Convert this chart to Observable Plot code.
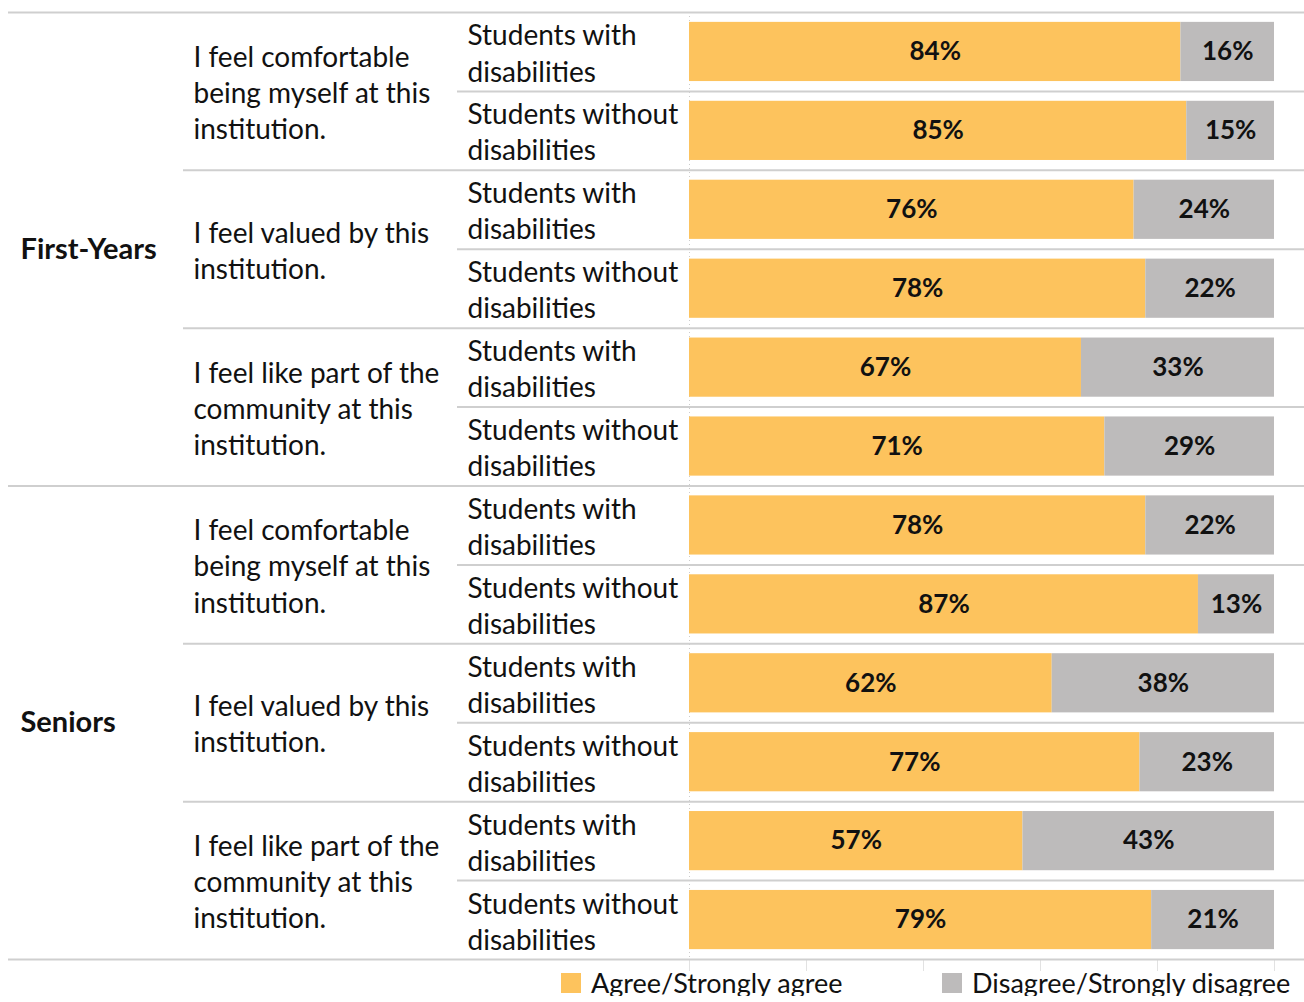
<!DOCTYPE html>
<html><head><meta charset="utf-8">
<script src="https://cdn.jsdelivr.net/npm/d3@7"></script>
<script src="https://cdn.jsdelivr.net/npm/@observablehq/plot@0.6"></script>
<style>
body{margin:0;background:#fff;font-family:Lato,sans-serif;}
#legend{position:relative;width:1304px;height:27px;font-size:27px;color:#111;line-height:27px;margin-top:-6px}
.item{position:absolute;top:0;display:flex;align-items:center;white-space:nowrap}
.sw{width:20px;height:20px;margin-right:10px}
</style></head><body><div id="chart"></div><div id="legend"></div>
<script>
const groups = ["First-Years", "Seniors"];
const questions = [
  "I feel comfortable\nbeing myself at this\ninstitution.",
  "I feel valued by this\ninstitution.",
  "I feel like part of the\ncommunity at this\ninstitution."
];
const populations = ["Students with\ndisabilities", "Students without\ndisabilities"];
const agree    = [84, 85, 76, 78, 67, 71, 78, 87, 62, 77, 57, 79];
const disagree = [16, 15, 24, 22, 33, 29, 22, 13, 38, 23, 43, 21];
const categories = ["Agree/Strongly agree", "Disagree/Strongly disagree"];
const colors = ["#FDC35D", "#BDBBBB"];
const xTicks = [0, 20, 40, 60, 80, 100];

const W = 1304, H = 975, MT = 12, MB = 16;
const step = (H - MT - MB) / 12;
const rows = [];
groups.forEach((g, gi) => questions.forEach((q, qi) => populations.forEach((p, pi) => {
  const i = rows.length;
  rows.push({id: `${gi}-${qi}-${pi}`, i, g, q, p, gi, qi, pi});
})));
const long = rows.flatMap((r) => [
  {id: r.id, cat: categories[0], value: agree[r.i]},
  {id: r.id, cat: categories[1], value: disagree[r.i]}
]);
const lineColor = "#cfcfcf";
const txt = "#111";

const chart = Plot.plot({
  width: W, height: H,
  marginLeft: 0, marginRight: 0, marginTop: MT, marginBottom: MB,
  style: {fontFamily: "Lato, sans-serif", background: "#fff"},
  x: {domain: [0, 100], range: [689, 1274], label: null},
  y: {domain: rows.map((r) => r.id), range: [MT, H - MB], paddingInner: 0.25, paddingOuter: 0.125, round: false, axis: null},
  color: {domain: categories, range: colors},
  marks: [
    Plot.ruleX([0], {stroke: "#cccccc", strokeDasharray: "1,3"}),
    Plot.axisX({ticks: xTicks, tickFormat: () => "", tickSize: 12, stroke: "#e2e2e2", label: null}),
    Plot.barX(long, Plot.stackX({x: "value", y: "id", fill: "cat"})),
    Plot.text(long, Plot.stackX({x: "value", y: "id", text: (d) => d.value + "%", fontWeight: "bold", fontSize: 26, fill: txt})),
    // separators
    Plot.ruleY(rows.filter((r) => r.i % 6 === 0), {y: "id", dy: -step / 2, insetLeft: 8, stroke: lineColor, strokeWidth: 2}),
    Plot.ruleY([rows[rows.length - 1]], {y: "id", dy: step / 2, insetLeft: 8, stroke: lineColor, strokeWidth: 2}),
    Plot.ruleY(rows.filter((r) => r.pi === 0 && r.qi > 0), {y: "id", dy: -step / 2, insetLeft: 183, stroke: lineColor, strokeWidth: 2}),
    Plot.ruleY(rows.filter((r) => r.pi === 1), {y: "id", dy: -step / 2, insetLeft: 457, stroke: lineColor, strokeWidth: 2}),
    // labels
    Plot.text(rows, {y: "id", text: "p", frameAnchor: "left", textAnchor: "start", dx: 467, fontSize: 28, lineHeight: 1.29, fill: txt}),
    Plot.text(rows.filter((r) => r.pi === 0), {y: "id", text: "q", frameAnchor: "left", textAnchor: "start", dx: 193, dy: step / 2, fontSize: 28, lineHeight: 1.29, fill: txt}),
    Plot.text(rows.filter((r) => r.qi === 1 && r.pi === 0), {y: "id", text: "g", frameAnchor: "left", textAnchor: "start", dx: 20, dy: step / 2, fontSize: 29, fontWeight: "bold", fill: txt})
  ]
});
document.getElementById("chart").append(chart);

const legend = document.getElementById("legend");
const lx = [561, 942];
categories.forEach((c, i) => {
  const it = document.createElement("div");
  it.className = "item";
  it.style.left = lx[i] + "px";
  it.innerHTML = `<span class="sw" style="background:${colors[i]}"></span><span>${c}</span>`;
  legend.append(it);
});
</script></body></html>
